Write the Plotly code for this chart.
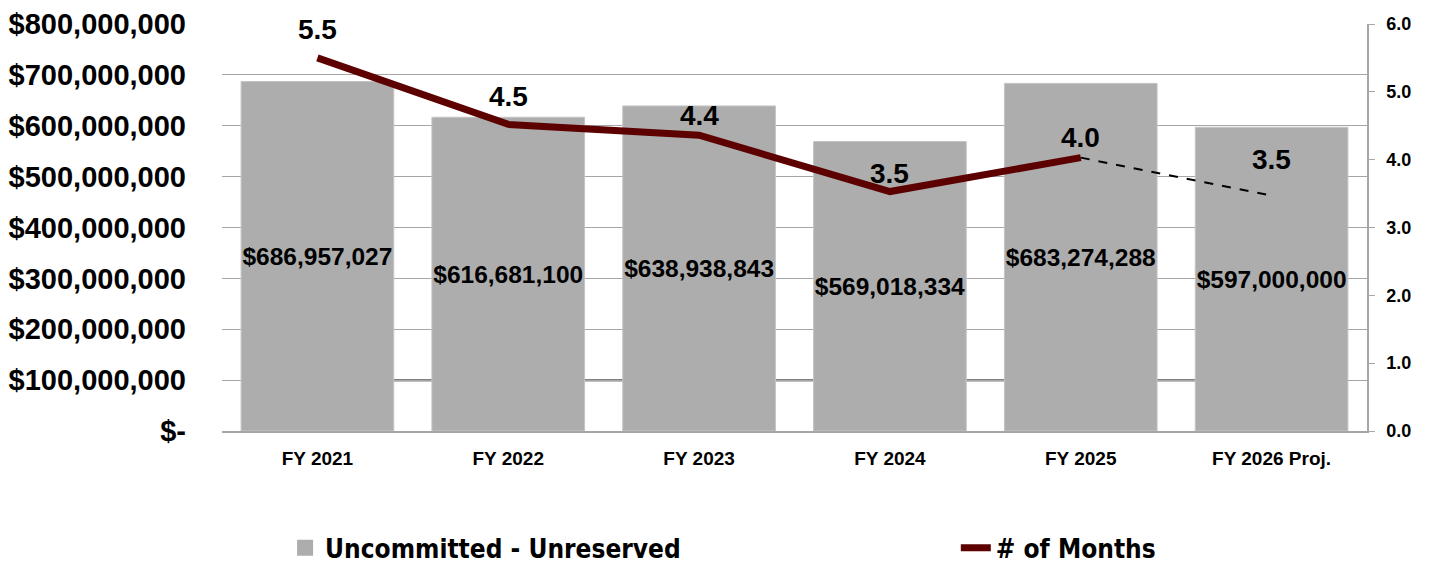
import plotly.graph_objects as go

categories = ["FY 2021", "FY 2022", "FY 2023", "FY 2024", "FY 2025", "FY 2026 Proj."]
fund_balance = [686957027, 616681100, 638938843, 569018334, 683274288, 597000000]
months = [5.5, 4.52, 4.36, 3.53, 4.03, 3.47]
left_ticks = [0, 100e6, 200e6, 300e6, 400e6, 500e6, 600e6, 700e6, 800e6]

BASE = "Liberation Sans, Arial, sans-serif"
NARROW = "DejaVu Sans Condensed, Liberation Sans Narrow, Arial Narrow, sans-serif"
MAROON = "#5C0000"
BAR = "#ADADAD"
GRID = "#A6A6A6"

left_text = ["$-" if v == 0 else "${:,.0f}".format(v) for v in left_ticks]

fig = go.Figure()
fig.add_trace(go.Bar(
    x=categories, y=fund_balance, name="Uncommitted - Unreserved",
    marker=dict(color=BAR, line=dict(color="#C4C4C4", width=1)),
    texttemplate="$%{y:,.0f}", textposition="inside", insidetextanchor="middle",
    textangle=0, constraintext="none",
    textfont=dict(family=BASE, size=24.5, color="black", weight="bold"),
    hoverinfo="skip", showlegend=False,
))
# legend entry for the bars with a larger square swatch
fig.add_trace(go.Scatter(
    x=[None], y=[None], name="Uncommitted - Unreserved", mode="markers",
    marker=dict(symbol="square", size=16, color=BAR), legend="legend",
))
fig.add_trace(go.Scatter(
    x=categories[:5], y=months[:5], name="# of Months", yaxis="y2",
    mode="lines", line=dict(color=MAROON, width=7), legend="legend2",
))
fig.add_trace(go.Scatter(
    x=categories[4:], y=months[4:], yaxis="y2", showlegend=False,
    mode="lines", line=dict(color="black", width=2, dash="dash"),
))

label_shift = [28, 28, 20, 18, 20, 36]
for c, m, s in zip(categories, months, label_shift):
    fig.add_annotation(x=c, y=m, yref="y2", text="{:.1f}".format(m), showarrow=False,
                       yshift=s, font=dict(family=BASE, size=28, color="black", weight="bold"))

fig.add_shape(type="line", xref="x", yref="y", x0=-0.4, x1=5.4, y0=100e6, y1=100e6,
              line=dict(color="#808080", width=2.5), layer="below")

legend_font = dict(family=NARROW, size=26, weight="bold")
fig.update_layout(
    width=1421, height=556,
    margin=dict(l=214, r=62, t=16, b=133, autoexpand=False),
    paper_bgcolor="white", plot_bgcolor="white",
    bargap=0.2,
    font=dict(family=BASE, color="black"),
    xaxis=dict(showline=True, linecolor=GRID, linewidth=1.5, ticks="",
               tickfont=dict(family=BASE, size=19, weight="bold"), ticklabelstandoff=9),
    yaxis=dict(range=[0, 800e6], tickvals=left_ticks, ticktext=left_text,
               showgrid=True, gridcolor=GRID, gridwidth=1, zeroline=False, showline=False,
               tickfont=dict(family=BASE, size=29, weight="bold"), ticklabelstandoff=35,
               ticklabeloverflow="allow"),
    yaxis2=dict(range=[0, 6], dtick=1, tickformat=".1f", overlaying="y", side="right",
                showgrid=False, zeroline=False, showline=True, linecolor=GRID, linewidth=1.5,
                ticks="outside", ticklen=6, tickcolor=GRID,
                tickfont=dict(family=BASE, size=18, weight="bold"), ticklabelstandoff=8,
                ticklabeloverflow="allow"),
    legend=dict(orientation="h", xref="container", yref="container", x=0.195, xanchor="left",
                y=0.029, yanchor="middle", font=legend_font, bgcolor="rgba(0,0,0,0)",
                itemsizing="trace"),
    legend2=dict(orientation="h", xref="container", yref="container", x=0.667, xanchor="left",
                 y=0.029, yanchor="middle", font=legend_font, bgcolor="rgba(0,0,0,0)"),
    showlegend=True,
)

fig.write_html("out.html")
